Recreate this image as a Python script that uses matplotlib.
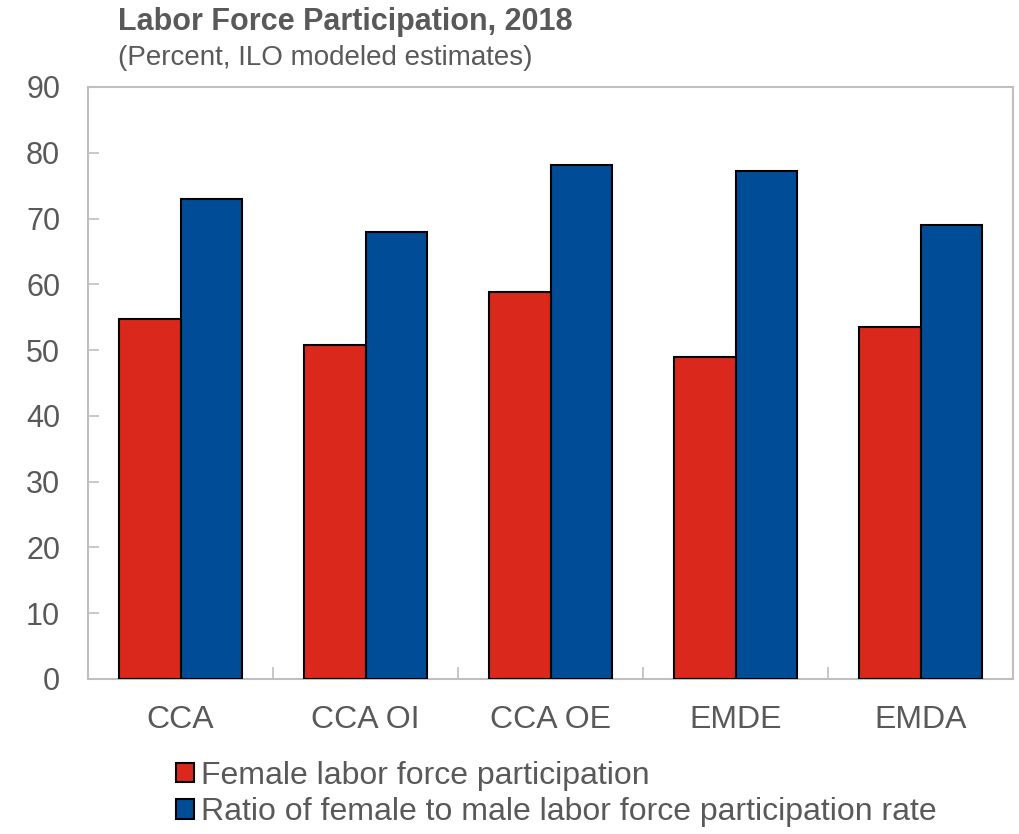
import matplotlib
matplotlib.use("Agg")
import matplotlib.pyplot as plt
import numpy as np
from matplotlib.patches import Patch

plt.rcParams['font.family'] = ['Liberation Sans', 'DejaVu Sans']

categories = ["CCA", "CCA OI", "CCA OE", "EMDE", "EMDA"]
female_lfp = [54.8, 50.8, 58.8, 48.9, 53.5]
ratio_fm = [72.9, 67.9, 78.2, 77.3, 69.0]
series_names = ["Female labor force participation",
                "Ratio of female to male labor force participation rate"]
yticks = [0, 10, 20, 30, 40, 50, 60, 70, 80, 90]

red = "#DA291C"
blue = "#004C97"
text_gray = "#595959"
spine_gray = "#BFBFBF"

fig = plt.figure(figsize=(10.2, 8.34), dpi=100)
ax = fig.add_axes([88 / 1020, 1 - 679 / 834, 925 / 1020, 592 / 834])

x = np.arange(len(categories))
w = 0.335
ax.bar(x - w / 2, female_lfp, width=w, color=red, edgecolor="black", linewidth=1.5, zorder=3)
ax.bar(x + w / 2, ratio_fm, width=w, color=blue, edgecolor="black", linewidth=1.5, zorder=3)

ax.set_xlim(-0.5, len(categories) - 0.5)
ax.set_ylim(0, 90)
ax.set_yticks(yticks)
ax.set_yticklabels([str(t) for t in yticks], fontsize=22, color=text_gray)
ax.tick_params(axis="y", direction="in", length=8, width=1.2, color=spine_gray, pad=20)

# category labels centred, ticks between groups
ax.set_xticks(x)
ax.set_xticklabels(categories, fontsize=23, color=text_gray)
ax.tick_params(axis="x", length=0, pad=19)
ax.set_xticks(np.arange(0.5, len(categories) - 0.5, 1.0), minor=True)
ax.tick_params(axis="x", which="minor", direction="in", length=9, width=1.2, color=spine_gray)

for s in ax.spines.values():
    s.set_color(spine_gray)
    s.set_linewidth(1.5)

fig.text(118 / 1020, 1 - 22 / 834, "Labor Force Participation, 2018", fontsize=22,
         fontweight="bold", color=text_gray, va="center", ha="left")
fig.text(118 / 1020, 1 - 58 / 834, "(Percent, ILO modeled estimates)", fontsize=20,
         color=text_gray, va="center", ha="left")

handles = [Patch(facecolor=red, edgecolor="black", linewidth=1.5),
           Patch(facecolor=blue, edgecolor="black", linewidth=1.5)]
fig.legend(handles, series_names, loc="upper left", bbox_to_anchor=(160 / 1020, 1 - 745 / 834),
           frameon=False, fontsize=23, labelcolor=text_gray, handlelength=0.55, handleheight=0.55,
           handletextpad=0.22, labelspacing=0.2, borderpad=0)

fig.savefig("out.png", dpi=100)
